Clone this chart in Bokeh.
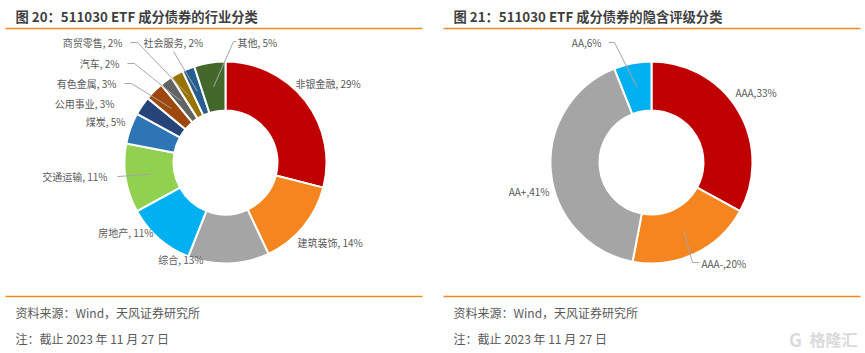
import numpy as np
from bokeh.plotting import figure
from bokeh.models import Range1d, ColumnDataSource
from bokeh.core.properties import value
from bokeh.embed import file_html
from bokeh.resources import INLINE

# ---------------- data ----------------
industry_names = ["非银金融", "建筑装饰", "综合", "房地产", "交通运输", "煤炭",
                  "公用事业", "有色金属", "汽车", "商贸零售", "社会服务", "其他"]
industry_shares = [29, 14, 13, 11, 11, 5, 3, 3, 2, 2, 2, 5]

rating_names = ["AAA", "AAA-", "AA+", "AA"]
rating_shares = [33, 20, 41, 6]

title_left = "图 20：511030 ETF 成分债券的行业分类"
title_right = "图 21：511030 ETF 成分债券的隐含评级分类"
source_note = "资料来源：Wind，天风证券研究所"
date_note = "注：截止 2023 年 11 月 27 日"

# ---------------- styles / layout ----------------
industry_colors = ["#C00000", "#F5851F", "#A5A5A5", "#00B0F0", "#92D050", "#2E75B6",
                   "#264478", "#9E480E", "#636363", "#997300", "#255E91", "#43682B"]
rating_colors = ["#C00000", "#F5851F", "#A5A5A5", "#00B0F0"]

W, H = 865, 353
FONT = value("Noto Sans CJK SC")
ORANGE = "#F08A24"
LABEL_C = "#595959"
LEADER_C = "#A6A6A6"

def Y(yp):
    return H - yp

p = figure(width=W, height=H, x_range=Range1d(0, W), y_range=Range1d(0, H),
           output_backend="svg", toolbar_location=None,
           x_axis_location=None, y_axis_location=None,
           min_border=0, min_border_left=0, min_border_right=0,
           min_border_top=0, min_border_bottom=0,
           outline_line_color=None, background_fill_color="white",
           border_fill_color="white")
p.grid.visible = False


def donut(cx, cy, shares, colors, r_in, r_out):
    frac = np.array(shares, dtype=float) / float(sum(shares))
    cum = np.concatenate([[0.0], np.cumsum(frac)])
    start = np.pi / 2 - cum[:-1] * 2 * np.pi
    end = np.pi / 2 - cum[1:] * 2 * np.pi
    src = ColumnDataSource(dict(start=start, end=end, color=colors))
    p.annular_wedge(x=cx, y=Y(cy), inner_radius=r_in, outer_radius=r_out,
                    start_angle="start", end_angle="end", direction="clock",
                    fill_color="color", line_color="white", line_width=2, source=src)
    mid = (cum[:-1] + cum[1:]) / 2 * 2 * np.pi  # clockwise from top
    rm = (r_in + r_out) / 2
    px = cx + rm * np.sin(mid)
    py = cy - rm * np.cos(mid)
    return px, py


def labels(names, shares, sep, pos, px, py, leaders):
    xs_l, xs_r, ys_l, ys_r, t_l, t_r = [], [], [], [], [], []
    for i, (n, s) in enumerate(zip(names, shares)):
        x, y, al = pos[i]
        txt = f"{n}{sep}{s}%"
        if al == "left":
            xs_l.append(x); ys_l.append(Y(y)); t_l.append(txt)
        else:
            xs_r.append(x); ys_r.append(Y(y)); t_r.append(txt)
    for xs, ys, ts, al in [(xs_l, ys_l, t_l, "left"), (xs_r, ys_r, t_r, "right")]:
        if ts:
            p.text(x=xs, y=ys, text=ts, text_align=al, text_baseline="middle",
                   text_font=FONT, text_font_size="10px", text_color=LABEL_C)
    lx, ly = [], []
    for i, (kx, ky, ex) in leaders.items():
        lx.append([px[i], kx, ex])
        ly.append([Y(py[i]), Y(ky), Y(ky)])
    p.multi_line(xs=lx, ys=ly, line_color=LEADER_C, line_width=1)


# left donut
lpx, lpy = donut(225, 162, industry_shares, industry_colors, 52, 101)
left_pos = [(295, 83, "left"), (297, 242, "left"), (203, 259, "right"),
            (153, 232, "right"), (107, 176, "right"), (125, 121, "right"),
            (114, 103, "right"), (116, 83, "right"), (119, 63, "right"),
            (122, 42, "right"), (143, 42, "left"), (237, 42, "left")]
left_leaders = {4: (117, 176, 117), 7: (131, 83, 124), 8: (134, 63, 127),
                9: (137, 42, 130), 10: (173, 51, 173), 11: (233, 41, 236)}
labels(industry_names, industry_shares, ", ", left_pos, lpx, lpy, left_leaders)

# right donut
rpx, rpy = donut(651, 162, rating_shares, rating_colors, 52, 101)
right_pos = [(735, 92, "left"), (701, 263, "left"), (549, 191, "right"), (601, 42, "right")]
right_leaders = {3: (614, 42, 608), 1: (692, 262, 699)}
labels(rating_names, rating_shares, ",", right_pos, rpx, rpy, right_leaders)

# titles
p.text(x=[15, 453], y=[Y(16), Y(16)], text=[title_left, title_right],
       text_align="left", text_baseline="middle", text_font=FONT,
       text_font_size="13.3px", text_font_style="bold", text_color="#3F3F3F")

# rules
for y in (28, 296):
    p.segment(x0=[5, 443], y0=[Y(y), Y(y)], x1=[422, 860], y1=[Y(y), Y(y)],
              line_color=ORANGE, line_width=1.5)

# footers
p.text(x=[15, 453, 15, 453], y=[Y(312), Y(312), Y(338), Y(338)],
       text=[source_note, source_note, date_note, date_note],
       text_align="left", text_baseline="middle", text_font=FONT,
       text_font_size="12px", text_color=LABEL_C)

# watermark
p.text(x=[857], y=[Y(338)], text=["格隆汇"], text_align="right", text_baseline="middle",
       text_font=FONT, text_font_size="16px", text_font_style="bold", text_color="#DADADA")
p.text(x=[795], y=[Y(338)], text=["G"], text_align="center", text_baseline="middle",
       text_font=FONT, text_font_size="18px", text_font_style="bold", text_color="#DADADA")

open("out.html", "w").write(file_html(p, INLINE))
